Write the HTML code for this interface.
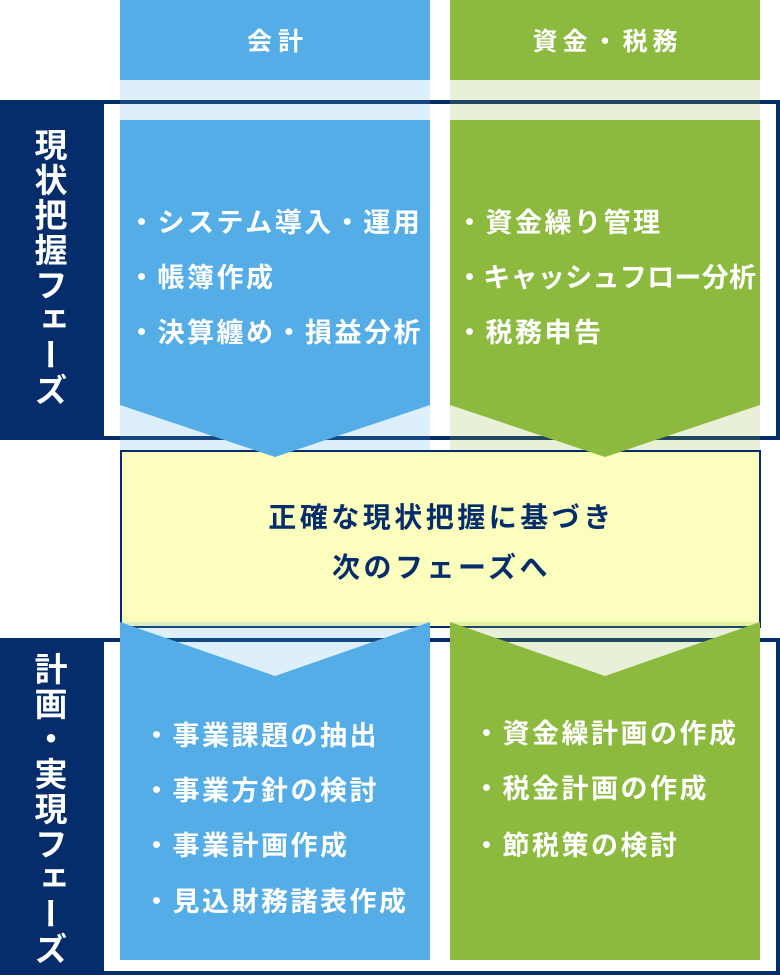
<!DOCTYPE html>
<html><head><meta charset="utf-8"><style>
body{margin:0;width:780px;height:978px;position:relative;background:#fff;font-family:"Liberation Sans","Noto Sans CJK JP",sans-serif;overflow:hidden}
.t{position:absolute;color:#fff;font-weight:bold;font-size:27px;letter-spacing:2.5px;white-space:nowrap;line-height:1}
.v{position:absolute;writing-mode:vertical-rl;color:#fff;font-size:33px;font-weight:bold;line-height:1;letter-spacing:2px}
</style></head><body>
<svg width="780" height="978" style="position:absolute;left:0;top:0">
<rect x="2" y="102" width="776" height="336" fill="none" stroke="#052d6b" stroke-width="4"/>
<rect x="0" y="100" width="104" height="340" fill="#052d6b"/>
<rect x="2" y="640" width="776" height="333" fill="none" stroke="#052d6b" stroke-width="4"/>
<rect x="0" y="638" width="104" height="337" fill="#052d6b"/>
<rect x="121" y="451" width="639" height="176" fill="#fcfebd" stroke="#052d6b" stroke-width="2"/>
<rect x="120" y="0" width="310" height="80" fill="#55ade8"/>
<rect x="120" y="80" width="310" height="370" fill="#55ade8" opacity="0.2"/>
<polygon points="120,120 430,120 430,405 275,457 120,405" fill="#55ade8"/>
<rect x="450" y="0" width="310" height="80" fill="#8cba3e"/>
<rect x="450" y="80" width="310" height="370" fill="#8cba3e" opacity="0.2"/>
<polygon points="450,120 760,120 760,405 605,457 450,405" fill="#8cba3e"/>
<polygon points="120,622 275,676 430,622" fill="#55ade8" opacity="0.2"/>
<polygon points="120,622 275,676 430,622 430,960 120,960" fill="#55ade8"/>
<polygon points="450,622 605,676 760,622" fill="#8cba3e" opacity="0.2"/>
<polygon points="450,622 605,676 760,622 760,960 450,960" fill="#8cba3e"/>
</svg>
<div class="t" style="left:120px;width:310px;text-align:center;top:30px;font-size:25px;letter-spacing:6px;text-indent:6px">会計</div>
<div class="t" style="left:450px;width:310px;text-align:center;top:30px;font-size:25px;letter-spacing:5px;text-indent:5px">資金・税務</div>
<div class="v" style="left:32px;top:128px">現状把握フェーズ</div>
<div class="v" style="left:32px;top:652px">計画・実現フェーズ</div>
<div class="t" style="left:128px;top:210px">・システム導入・運用</div>
<div class="t" style="left:128px;top:265px">・帳簿作成</div>
<div class="t" style="left:128px;top:320px">・決算纏め・損益分析</div>
<div class="t" style="left:456px;top:210px">・資金繰り管理</div>
<div class="t" style="left:456px;top:265px;letter-spacing:0.3px">・キャッシュフロー分析</div>
<div class="t" style="left:456px;top:320px">・税務申告</div>
<div class="t" style="left:120px;width:640px;text-align:center;top:504px;color:#052d6b;font-size:28px;letter-spacing:3.5px;text-indent:3px">正確な現状把握に基づき</div>
<div class="t" style="left:120px;width:640px;text-align:center;top:554px;color:#052d6b;font-size:28px;letter-spacing:3.5px;text-indent:3px">次のフェーズへ</div>
<div class="t" style="left:143px;top:723px">・事業課題の抽出</div>
<div class="t" style="left:143px;top:778px">・事業方針の検討</div>
<div class="t" style="left:143px;top:833px">・事業計画作成</div>
<div class="t" style="left:143px;top:889px">・見込財務諸表作成</div>
<div class="t" style="left:473px;top:721px">・資金繰計画の作成</div>
<div class="t" style="left:473px;top:776px">・税金計画の作成</div>
<div class="t" style="left:473px;top:833px">・節税策の検討</div>
</body></html>
